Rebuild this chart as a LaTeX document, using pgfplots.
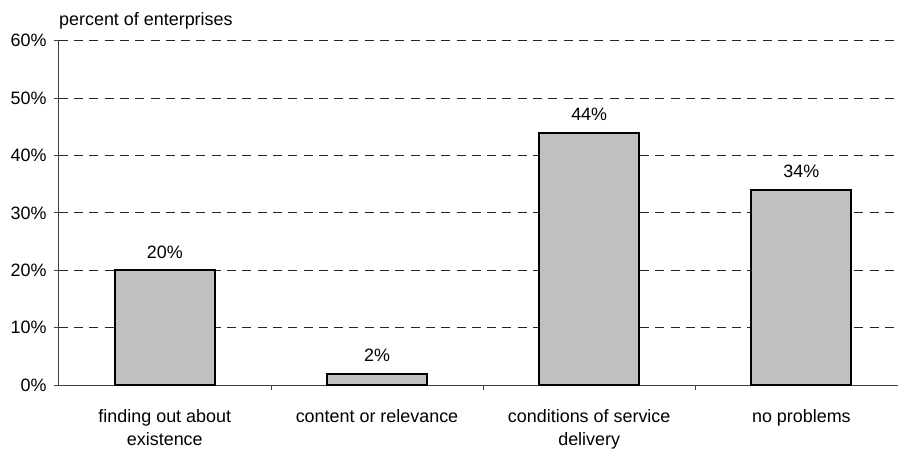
\documentclass[border=0pt]{standalone}
\usepackage{pgfplots}
\pgfplotsset{compat=1.18}
\usepackage{fontspec}
\setmainfont{Liberation Sans}
\definecolor{barfill}{HTML}{C0C0C0}
\begin{document}
\begin{tikzpicture}[x=1bp,y=1bp]
\fontsize{18}{23.5}\selectfont
\begin{axis}[
  at={(0,0)}, anchor=south west,
  scale only axis,
  width=848.8bp, height=344.3bp,
  xmin=-0.5, xmax=3.5,
  ymin=0, ymax=60,
  axis lines*=left,
  axis line style={black!75, line width=0.8bp},
  ytick={0,10,20,30,40,50,60},
  yticklabel={\pgfmathprintnumber{\tick}\%},
  /pgf/number format/assume math mode=true,
  ymajorgrids,
  grid style={black!85, line width=0.8bp, dash pattern=on 9bp off 6.3bp},
  tick style={black!75, line width=0.8bp},
  tick align=outside,
  major tick length=5bp,
  xtick={0.5,1.5,2.5},
  xticklabels={},
  ticklabel style={font=\fontsize{18}{23.5}\selectfont},
  yticklabel style={xshift=-1bp},
  ybar, bar width=100bp,
  clip=false,
]
\addplot[fill=barfill, draw=black, line width=2bp,
  nodes near coords={\pgfmathprintnumber{\pgfplotspointmeta}\%},
  every node near coord/.append style={font=\fontsize{18}{23.5}\selectfont, anchor=base, yshift=12bp, black},
] coordinates {(0,20) (1,2) (2,44) (3,34)};
\node[anchor=base, align=center, font=\fontsize{18}{23.5}\selectfont] at (axis cs:0,0) [yshift=-60.5bp] {finding out about\\existence};
\node[anchor=base, align=center, font=\fontsize{18}{23.5}\selectfont] at (axis cs:1,0) [yshift=-37bp] {content or relevance};
\node[anchor=base, align=center, font=\fontsize{18}{23.5}\selectfont] at (axis cs:2,0) [yshift=-60.5bp] {conditions of service\\delivery};
\node[anchor=base, align=center, font=\fontsize{18}{23.5}\selectfont] at (axis cs:3,0) [yshift=-37bp] {no problems};
\node[anchor=base west, font=\fontsize{18}{23.5}\selectfont] at (rel axis cs:0,1) [xshift=-5.7bp, yshift=15.7bp] {percent of enterprises};
\end{axis}
\pgfresetboundingbox
\useasboundingbox (-58.7bp,-65bp) rectangle (839.3bp,385bp);
\end{tikzpicture}
\end{document}
